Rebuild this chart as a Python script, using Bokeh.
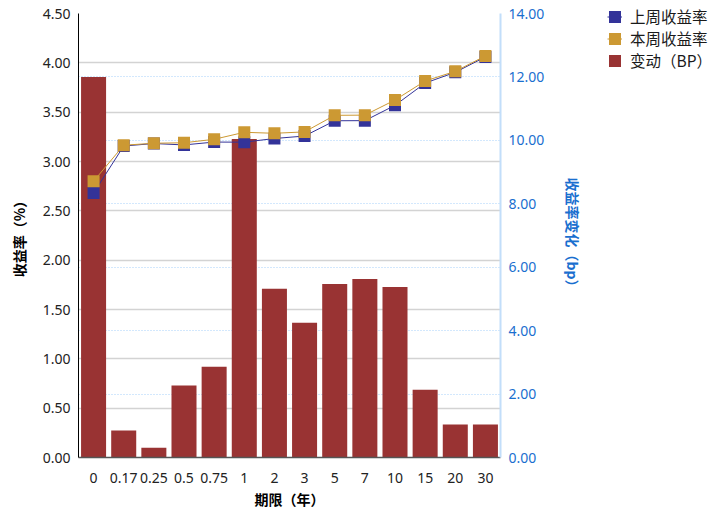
from bokeh.plotting import figure
from bokeh.layouts import row
from bokeh.models import (FactorRange, Range1d, LinearAxis, FixedTicker,
                          NumeralTickFormatter, Grid, Legend, LegendItem)
from bokeh.embed import file_html
from bokeh.resources import INLINE

tenors = ["0", "0.17", "0.25", "0.5", "0.75", "1", "2", "3", "5", "7", "10", "15", "20", "30"]
last_week = [2.68, 3.157, 3.182, 3.168, 3.197, 3.196, 3.233, 3.258, 3.413, 3.414, 3.569, 3.795, 3.904, 4.06]
this_week = [2.80, 3.165, 3.185, 3.190, 3.225, 3.296, 3.286, 3.300, 3.468, 3.470, 3.623, 3.816, 3.914, 4.07]
change_bp = [12.0, 0.85, 0.31, 2.27, 2.86, 10.04, 5.32, 4.25, 5.47, 5.63, 5.38, 2.14, 1.04, 1.04]
left_ticks = [0, 0.5, 1, 1.5, 2, 2.5, 3, 3.5, 4, 4.5]
right_ticks = [0, 2, 4, 6, 8, 10, 12, 14]
series_names = ["上周收益率", "本周收益率", "变动（BP）"]

CJK = "Noto Sans CJK SC"
NUM = "Noto Sans"
C_LAST, C_THIS, C_BAR = "#333399", "#cc9933", "#993333"

p = figure(x_range=FactorRange(factors=tenors, range_padding=0),
           y_range=Range1d(0, 4.5),
           frame_width=422, frame_height=444,
           min_border_left=0, min_border_top=13, min_border_bottom=40,
           min_border_right=0,
           output_backend="svg", toolbar_location=None)
p.margin = (0, 0, 0, 5)
p.outline_line_color = None
p.background_fill_color = "white"
p.extra_y_ranges = {"bp": Range1d(0, 14)}

# grids
p.xgrid.visible = False
p.ygrid.ticker = FixedTicker(ticks=left_ticks)
p.ygrid.grid_line_color = "#d3d3d3"
p.ygrid.grid_line_width = 1.5
bp_grid = Grid(dimension=1, ticker=FixedTicker(ticks=right_ticks), y_range_name="bp",
               grid_line_color="#a6d0fa", grid_line_dash="1 2", grid_line_width=1.2)
p.add_layout(bp_grid)

# bars
p.vbar(x=tenors, top=change_bp, width=0.83, y_range_name="bp",
       fill_color=C_BAR, line_color=None)

# lines
p.line(tenors, last_week, line_color=C_LAST, line_width=1)
p.scatter(tenors, last_week, marker="square", size=12, fill_color=C_LAST, line_color=None)
p.line(tenors, this_week, line_color=C_THIS, line_width=1)
p.scatter(tenors, this_week, marker="square", size=12, fill_color=C_THIS, line_color=None)

def style_axis(ax):
    ax.major_tick_line_color = None
    ax.minor_tick_line_color = None
    ax.major_tick_out = 0
    ax.major_tick_in = 0
    ax.minor_tick_out = 0
    ax.minor_tick_in = 0
    ax.major_label_text_font = NUM
    ax.major_label_text_font_size = "14px"
    ax.axis_label_text_font = CJK
    ax.axis_label_text_font_style = "bold"
    ax.axis_label_text_font_size = "14px"

# axes
xa = p.xaxis[0]
style_axis(xa)
xa.axis_label = "期限（年）"
xa.axis_line_color = "#555555"
xa.axis_line_width = 1.5
xa.major_label_text_color = "#222222"
xa.major_label_standoff = 15
xa.axis_label_text_color = "#000000"
xa.axis_label_standoff = 3

ya = p.yaxis[0]
style_axis(ya)
ya.ticker = FixedTicker(ticks=left_ticks)
ya.formatter = NumeralTickFormatter(format="0.00")
ya.axis_label = "收益率（%）"
ya.axis_line_color = "#000000"
ya.major_label_text_color = "#222222"
ya.major_label_standoff = 8
ya.axis_label_text_color = "#000000"
ya.axis_label_standoff = 11

ra = LinearAxis(y_range_name="bp", ticker=FixedTicker(ticks=right_ticks),
                formatter=NumeralTickFormatter(format="0.00"),
                axis_label="收益率变化（bp）")
style_axis(ra)
ra.axis_line_color = "#c2defa"
ra.axis_line_width = 2
ra.major_label_text_color = "#1a6fcf"
ra.major_label_standoff = 8
ra.axis_label_text_color = "#1a6fcf"
ra.axis_label_standoff = 16
p.add_layout(ra, "right")

# legend panel (separate small figure holding the legend; its renderers sit outside its range)
lf = figure(frame_width=112, frame_height=100, x_range=Range1d(0, 1), y_range=Range1d(0, 1),
            min_border_left=21, min_border_right=0, min_border_top=0, min_border_bottom=0,
            output_backend="svg", toolbar_location=None)
lf.margin = (5, 0, 0, 0)
lf.axis.visible = False
lf.grid.visible = False
lf.outline_line_color = None
g1 = lf.line(x=[5, 6], y=[5, 6], line_color=C_LAST, line_width=1)
m1 = lf.vbar(x=[5], top=[5], width=0.8, fill_color=C_LAST, line_color=None)
g2 = lf.line(x=[5, 6], y=[5, 6], line_color=C_THIS, line_width=1)
m2 = lf.vbar(x=[5], top=[5], width=0.8, fill_color=C_THIS, line_color=None)
g3 = lf.vbar(x=[5], top=[5], width=0.8, fill_color=C_BAR, line_color=None)

legend = Legend(items=[
    LegendItem(label=series_names[0], renderers=[g1, m1]),
    LegendItem(label=series_names[1], renderers=[g2, m2]),
    LegendItem(label=series_names[2], renderers=[g3]),
], location="top_left")
legend.label_text_font = CJK
legend.label_text_font_size = "15.5px"
legend.label_text_color = "#1a1a1a"
legend.label_height = 16
legend.glyph_height = 15
legend.glyph_width = 15
legend.label_standoff = 8
legend.spacing = 0
legend.padding = 0
legend.margin = 0
legend.border_line_color = None
legend.background_fill_alpha = 0
lf.add_layout(legend)

layout = row(p, lf)
open("out.html", "w").write(file_html(layout, INLINE))
